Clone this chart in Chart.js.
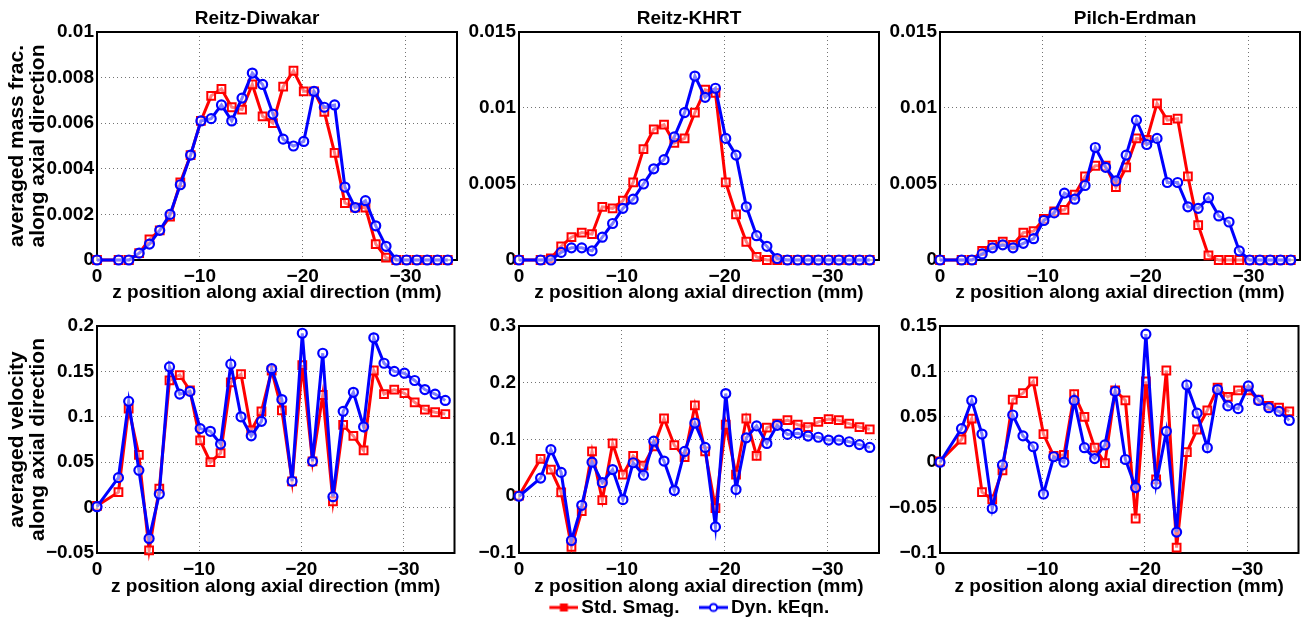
<!DOCTYPE html>
<html>
<head>
<meta charset="utf-8">
<script src="https://cdn.jsdelivr.net/npm/chart.js@4.4.1/dist/chart.umd.min.js"></script>
<style>
  html, body { margin: 0; padding: 0; background: #fff; overflow: hidden; }
  #page { position: relative; width: 1306px; height: 621px; overflow: hidden; }
  #page canvas { position: absolute; }
</style>
</head>
<body>
<div id="page"></div>
<script>
// axial positions (mm), shared by every panel
const zPos = [0, -2.1, -3.1, -4.1, -5.1, -6.1, -7.1, -8.1, -9.1, -10.1, -11.1, -12.1, -13.1, -14.1,
  -15.1, -16.1, -17.1, -18.1, -19.1, -20.1, -21.1, -22.1, -23.1, -24.1, -25.1, -26.1, -27.1,
  -28.1, -29.1, -30.1, -31.1, -32.1, -33.1, -34.1];

const seriesNames = ['Std. Smag.', 'Dyn. kEqn.'];
const panelTitles = ['Reitz-Diwakar', 'Reitz-KHRT', 'Pilch-Erdman'];
const xTitle = 'z position along axial direction (mm)';
const massTitle = ['averaged mass frac.', 'along axial direction'];
const velTitle = ['averaged velocity', 'along axial direction'];
const xTicks = [0, -10, -20, -30];

// averaged mass fraction
const massDiwakarStd = [0, 0, 0, 0.0003, 0.0009, 0.0013, 0.0019, 0.0034, 0.0046, 0.0061, 0.0072, 0.0075,
  0.0067, 0.0066, 0.0077, 0.0063, 0.0060, 0.0076, 0.0083, 0.0074, 0.0074, 0.0065, 0.0047, 0.0025,
  0.0023, 0.0023, 0.0007, 0.0001, 0, 0, 0, 0, 0, 0];
const massDiwakarDyn = [0, 0, 0, 0.0003, 0.0007, 0.0013, 0.0020, 0.0033, 0.0046, 0.0061, 0.0062, 0.0068,
  0.0061, 0.0071, 0.0082, 0.0077, 0.0064, 0.0053, 0.0050, 0.0052, 0.0074, 0.0067, 0.0068, 0.0032,
  0.0023, 0.0026, 0.0015, 0.0006, 0, 0, 0, 0, 0, 0];
const massKhrtStd = [0, 0, 0.0001, 0.0009, 0.0015, 0.0018, 0.0017, 0.0035, 0.0034, 0.0039, 0.0051, 0.0073,
  0.0086, 0.0089, 0.0077, 0.0080, 0.0097, 0.0112, 0.0110, 0.0051, 0.0030, 0.0012, 0.0002, 0,
  0, 0, 0, 0, 0, 0, 0, 0, 0, 0];
const massKhrtDyn = [0, 0, 0, 0.0005, 0.0008, 0.0008, 0.0006, 0.0015, 0.0024, 0.0034, 0.0040, 0.0050,
  0.0060, 0.0066, 0.0081, 0.0097, 0.0121, 0.0107, 0.0113, 0.0080, 0.0069, 0.0035, 0.0016, 0.0009,
  0.0001, 0, 0, 0, 0, 0, 0, 0, 0, 0];
const massPilchStd = [0, 0, 0, 0.0006, 0.0010, 0.0012, 0.0010, 0.0018, 0.0019, 0.0027, 0.0032, 0.0033,
  0.0043, 0.0055, 0.0062, 0.0062, 0.0048, 0.0061, 0.0080, 0.0079, 0.0103, 0.0092, 0.0093, 0.0055,
  0.0023, 0.0003, 0, 0, 0, 0, 0, 0, 0, 0];
const massPilchDyn = [0, 0, 0, 0.0004, 0.0008, 0.0010, 0.0008, 0.0011, 0.0014, 0.0026, 0.0031, 0.0044,
  0.0040, 0.0049, 0.0074, 0.0061, 0.0052, 0.0069, 0.0092, 0.0076, 0.0080, 0.0051, 0.0051, 0.0035,
  0.0034, 0.0041, 0.0029, 0.0025, 0.0006, 0, 0, 0, 0, 0];

// averaged velocity
const velDiwakarStd = [0.002, 0.017, 0.109, 0.058, -0.047, 0.021, 0.140, 0.146, 0.129, 0.074, 0.050, 0.060,
  0.138, 0.147, 0.085, 0.106, 0.151, 0.107, 0.029, 0.157, 0.051, 0.124, 0.007, 0.091, 0.079, 0.063,
  0.151, 0.125, 0.130, 0.126, 0.116, 0.108, 0.105, 0.103];
const velDiwakarDyn = [0.001, 0.033, 0.117, 0.041, -0.034, 0.015, 0.155, 0.125, 0.128, 0.087, 0.084, 0.070,
  0.158, 0.100, 0.079, 0.095, 0.153, 0.119, 0.029, 0.192, 0.051, 0.170, 0.012, 0.106, 0.127, 0.089,
  0.187, 0.159, 0.150, 0.148, 0.140, 0.130, 0.125, 0.118];
const velKhrtStd = [0.001, 0.066, 0.047, 0.007, -0.089, -0.026, 0.079, -0.007, 0.093, 0.038, 0.071, 0.054,
  0.088, 0.137, 0.090, 0.069, 0.160, 0.079, -0.021, 0.126, 0.038, 0.137, 0.071, 0.121, 0.128, 0.134,
  0.126, 0.122, 0.131, 0.136, 0.134, 0.128, 0.122, 0.118];
const velKhrtDyn = [0, 0.032, 0.082, 0.042, -0.078, -0.016, 0.060, 0.024, 0.047, -0.006, 0.059, 0.037,
  0.097, 0.062, 0.010, 0.079, 0.129, 0.086, -0.054, 0.181, 0.012, 0.103, 0.124, 0.093, 0.125, 0.109,
  0.111, 0.106, 0.104, 0.099, 0.099, 0.096, 0.091, 0.086];
const velPilchStd = [0.001, 0.025, 0.048, -0.033, -0.041, -0.009, 0.069, 0.076, 0.089, 0.031, 0.007, 0.008,
  0.075, 0.050, 0.016, -0.001, 0.079, 0.068, -0.062, 0.089, -0.019, 0.101, -0.094, 0.011, 0.036, 0.057,
  0.082, 0.072, 0.079, 0.079, 0.069, 0.062, 0.060, 0.056];
const velPilchDyn = [0, 0.037, 0.068, 0.031, -0.051, -0.003, 0.052, 0.029, 0.017, -0.035, 0.006, 0.000,
  0.068, 0.016, 0.004, 0.019, 0.078, 0.003, -0.028, 0.141, -0.024, 0.034, -0.077, 0.085, 0.054, 0.016,
  0.080, 0.062, 0.059, 0.084, 0.068, 0.060, 0.056, 0.046];

// y tick values
const ticksMassDiwakar = [0, 0.002, 0.004, 0.006, 0.008, 0.01];
const ticksMassOther = [0, 0.005, 0.01, 0.015];
const ticksVelDiwakar = [-0.05, 0, 0.05, 0.1, 0.15, 0.2];
const ticksVelKhrt = [-0.1, 0, 0.1, 0.2, 0.3];
const ticksVelPilch = [-0.1, -0.05, 0, 0.05, 0.1, 0.15];

const RED = '#ff0000';
const BLUE = '#0000ff';
const FONT = "'Liberation Sans', Arial, Helvetica, sans-serif";

const fmt = v => {
  if (Math.abs(v) < 1e-12) return '0';
  return String(+v.toFixed(4)).replace('-', '\u2212');
};

// frame box like matlab axes
const framePlugin = {
  id: 'frame',
  beforeDatasetsDraw(chart) {
    const a = chart.chartArea, ctx = chart.ctx;
    ctx.save();
    ctx.strokeStyle = '#000';
    ctx.lineWidth = 2;
    ctx.strokeRect(a.left, a.top, a.right - a.left, a.bottom - a.top);
    ctx.restore();
  }
};

function legendImage(color, style) {
  const c = document.createElement('canvas');
  c.width = 55; c.height = 14;
  const g = c.getContext('2d');
  g.strokeStyle = color;
  g.lineWidth = 3;
  g.beginPath(); g.moveTo(26, 7); g.lineTo(55, 7); g.stroke();
  g.lineWidth = 2;
  if (style === 'rect') {
    g.fillStyle = color;
    g.fillRect(36.5, 3, 8, 8);
  } else {
    g.beginPath(); g.arc(40.5, 7, 3.6, 0, Math.PI * 2);
    g.fillStyle = '#fff'; g.fill(); g.stroke();
  }
  return c;
}

function makePanel(p) {
  const cv = document.createElement('canvas');
  cv.width = p.w; cv.height = p.h;
  cv.style.left = p.left + 'px';
  cv.style.top = p.top + 'px';
  document.getElementById('page').appendChild(cv);

  const tickFont = { family: FONT, size: 19, weight: 'bold' };

  new Chart(cv, {
    type: 'line',
    data: {
      datasets: [
        {
          label: seriesNames[0],
          data: zPos.map((z, i) => ({ x: z, y: p.std[i] })),
          borderColor: RED, backgroundColor: 'rgba(255,255,255,0.5)',
          borderWidth: 3, pointStyle: 'rect', pointRadius: 5.5,
          pointBorderWidth: 2, pointBorderColor: RED, order: 1, clip: false
        },
        {
          label: seriesNames[1],
          data: zPos.map((z, i) => ({ x: z, y: p.dyn[i] })),
          borderColor: BLUE, backgroundColor: 'rgba(255,255,255,0.5)',
          borderWidth: 3, pointStyle: 'circle', pointRadius: 4.5,
          pointBorderWidth: 2.2, pointBorderColor: BLUE, order: 0, clip: false
        }
      ]
    },
    options: {
      responsive: false,
      animation: false,
      devicePixelRatio: 1,
      layout: { padding: { top: p.padTop || 0 } },
      elements: { line: { tension: 0 } },
      plugins: {
        tooltip: { enabled: false },
        title: {
          display: !!p.title,
          text: p.title || '',
          color: '#000',
          font: { family: FONT, size: 19, weight: 'bold', lineHeight: 1.2 },
          padding: { top: 7, bottom: 2.2 }
        },
        legend: {
          display: !!p.legend,
          position: 'bottom',
          labels: {
            usePointStyle: true,
            pointStyleWidth: 42,
            padding: 0,
            color: '#000',
            font: { family: FONT, size: 19, weight: 'bold' },
            generateLabels: () => [
              { text: seriesNames[0], pointStyle: legendImage(RED, 'rect'), datasetIndex: 0, lineWidth: 0, hidden: false, fontColor: '#000' },
              { text: seriesNames[1], pointStyle: legendImage(BLUE, 'circle'), datasetIndex: 1, lineWidth: 0, hidden: false, fontColor: '#000' }
            ]
          }
        }
      },
      scales: {
        x: {
          type: 'linear', min: -35, max: 0, reverse: true,
          afterBuildTicks: s => { s.ticks = xTicks.map(v => ({ value: v })); },
          afterFit: s => { s.height = p.xH; },
          ticks: { color: '#000', font: tickFont, padding: 5, maxRotation: 0, autoSkip: false, callback: fmt },
          grid: { color: 'rgba(0,0,0,0.55)', lineWidth: 1, drawTicks: false },
          border: { display: false, dash: [1, 3] },
          title: { display: true, text: xTitle, color: '#000', font: { family: FONT, size: 19, weight: 'bold', lineHeight: 1.2 }, padding: 0 }
        },
        y: {
          type: 'linear', min: p.yTicks[0], max: p.yTicks[p.yTicks.length - 1],
          afterBuildTicks: s => { s.ticks = p.yTicks.map(v => ({ value: v })); },
          afterFit: s => { s.width = p.yW; },
          ticks: { color: '#000', font: tickFont, padding: 3, autoSkip: false, callback: fmt },
          grid: { color: 'rgba(0,0,0,0.55)', lineWidth: 1, drawTicks: false },
          border: { display: false, dash: [1, 3] },
          title: {
            display: !!p.yTitle, text: p.yTitle || '', color: '#000',
            font: { family: FONT, size: 21, weight: 'bold', lineHeight: 1.0 },
            padding: { top: 6.5, bottom: 0 }
          }
        },
        y2: {
          type: 'linear', position: 'right', display: true,
          afterFit: s => { s.width = p.rW; },
          ticks: { display: false },
          grid: { display: false, drawTicks: false },
          border: { display: false }
        }
      }
    },
    plugins: [framePlugin]
  });
}

const panels = [
  { title: panelTitles[0], std: massDiwakarStd, dyn: massDiwakarDyn, yTicks: ticksMassDiwakar, yTitle: massTitle,
    left: 0, top: 0, w: 514, h: 304, yW: 97, rW: 57, xH: 44 },
  { title: panelTitles[1], std: massKhrtStd, dyn: massKhrtDyn, yTicks: ticksMassOther,
    left: 457, top: 0, w: 464, h: 304, yW: 62, rW: 42, xH: 44 },
  { title: panelTitles[2], std: massPilchStd, dyn: massPilchDyn, yTicks: ticksMassOther,
    left: 879, top: 0, w: 512, h: 304, yW: 61, rW: 91, xH: 44 },
  { std: velDiwakarStd, dyn: velDiwakarDyn, yTicks: ticksVelDiwakar, yTitle: velTitle,
    left: 0, top: 300, w: 462, h: 298, yW: 97, rW: 5, xH: 45, padTop: 26 },
  { std: velKhrtStd, dyn: velKhrtDyn, yTicks: ticksVelKhrt, legend: true,
    left: 457, top: 300, w: 445, h: 327, yW: 62, rW: 23, xH: 45, padTop: 26 },
  { std: velPilchStd, dyn: velPilchDyn, yTicks: ticksVelPilch,
    left: 879, top: 300, w: 427, h: 298, yW: 61, rW: 6, xH: 45, padTop: 26 }
];

panels.forEach(makePanel);
</script>
</body>
</html>
